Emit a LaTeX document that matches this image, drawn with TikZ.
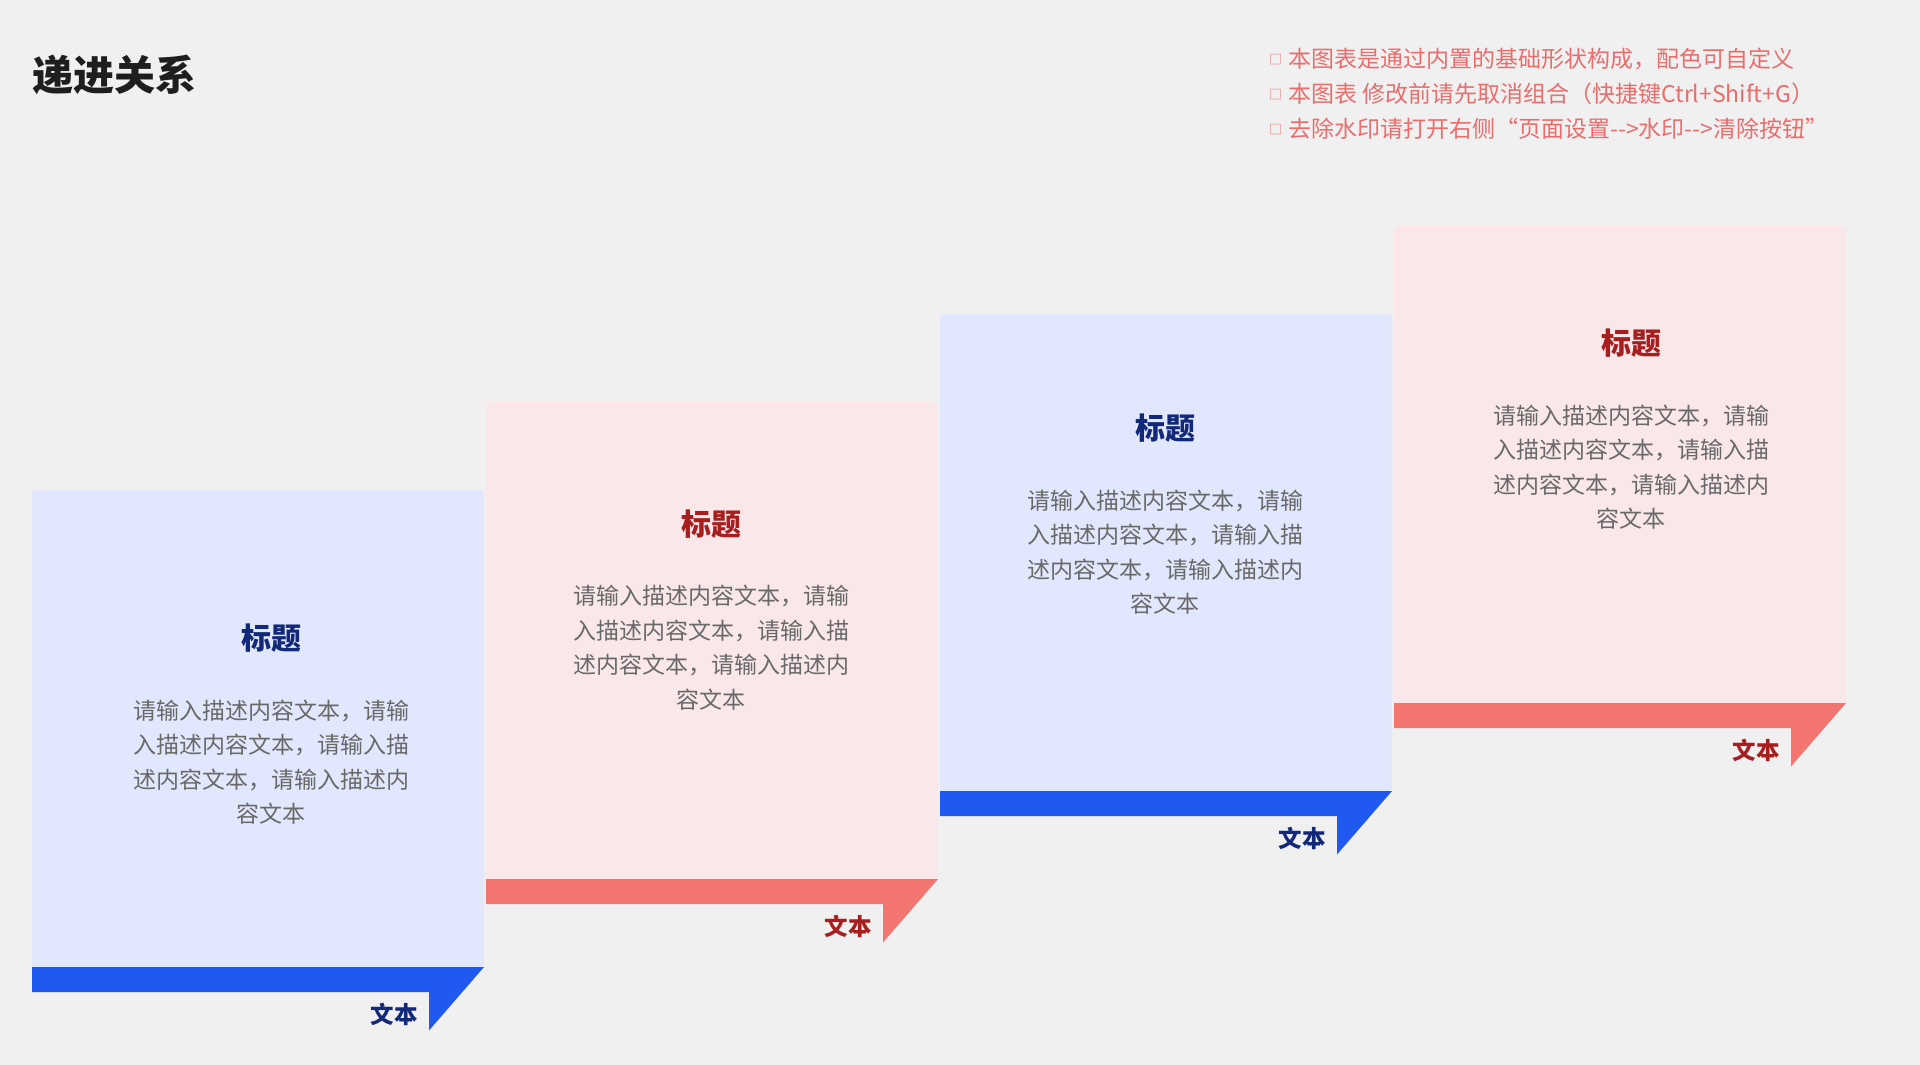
\documentclass[tikz,border=0pt]{standalone}
\usepackage{fontspec}
\setmainfont{Noto Sans CJK SC}
\definecolor{bgc}{RGB}{240,240,240}
\definecolor{bluelt}{RGB}{225,232,253}
\definecolor{pinklt}{RGB}{250,231,233}
\definecolor{blueband}{RGB}{32,88,242}
\definecolor{redband}{RGB}{242,117,111}
\definecolor{navy}{RGB}{18,40,120}
\definecolor{darkred}{RGB}{166,30,30}
\definecolor{bodygray}{RGB}{105,105,105}
\definecolor{notec}{RGB}{232,110,110}
\definecolor{headc}{RGB}{30,30,30}
\tikzset{
  cardtitle/.style={font=\fontsize{30}{30}\selectfont\bfseries, inner sep=0pt, anchor=center},
  cardbody/.style={font=\fontsize{23}{34.5}\selectfont, text=bodygray, align=center, inner sep=0pt, anchor=center},
  cardtag/.style={font=\fontsize{23.5}{23.5}\selectfont\bfseries, inner sep=0pt, anchor=center},
  notetext/.style={font=\fontsize{23}{23}\selectfont, text=notec, inner sep=0pt, anchor=west},
}
\newcommand{\notebox}{\raisebox{3pt}{\fontsize{13}{13}\selectfont □}\hspace{6pt}}
\begin{document}
\begin{tikzpicture}[x=1pt,y=-1pt]
\fill[bgc] (0,0) rectangle (1920,1065);
\useasboundingbox (0,0) rectangle (1920,1065);

\node[font=\fontsize{41}{41}\selectfont\bfseries, text=headc, inner sep=0pt, anchor=west] (head) at (32,75) {递进关系};

\node[notetext] (n1) at (1269,59) {\notebox 本图表是通过内置的基础形状构成，配色可自定义};
\node[notetext] (n2) at (1269,94) {\notebox 本图表 修改前请先取消组合（快捷键Ctrl+Shift+G）};
\node[notetext] (n3) at (1269,129) {\notebox 去除水印请打开右侧“页面设置-{}->水印-{}->清除按钮”};

\foreach \i/\lc/\bc/\tc/\cx/\ty/\by in {
  0/bluelt/blueband/navy/271/638/762,
  1/pinklt/redband/darkred/711/524/647.5,
  2/bluelt/blueband/navy/1165/428.5/552,
  3/pinklt/redband/darkred/1631/343/467}{
  \pgfmathsetmacro\xa{32+454*\i}
  \pgfmathsetmacro\xb{\xa+452}
  \pgfmathsetmacro\yt{490-88*\i}
  \pgfmathsetmacro\yb{967-88*\i}
  \pgfmathsetmacro\xt{\xb-55}
  \fill[\lc] (\xa,\yb) [rounded corners=4pt] -- (\xa,\yt) -- (\xb,\yt) [sharp corners] -- (\xb,\yb) -- cycle;
  \fill[\bc] (\xa,\yb) -- (\xb,\yb) -- (\xt,\yb+63.5) -- (\xt,\yb+25) -- (\xa,\yb+25) -- cycle;
  \node[cardtitle, text=\tc] (t\i) at (\cx,\ty) {标题};
  \node[cardbody] (b\i) at (\cx,\by) {请输入描述内容文本，请输\\入描述内容文本，请输入描\\述内容文本，请输入描述内\\容文本};
  \node[cardtag, text=\tc, anchor=east] (l\i) at (\xt-11,\yb+47) {文本};
}
\end{tikzpicture}
\end{document}
